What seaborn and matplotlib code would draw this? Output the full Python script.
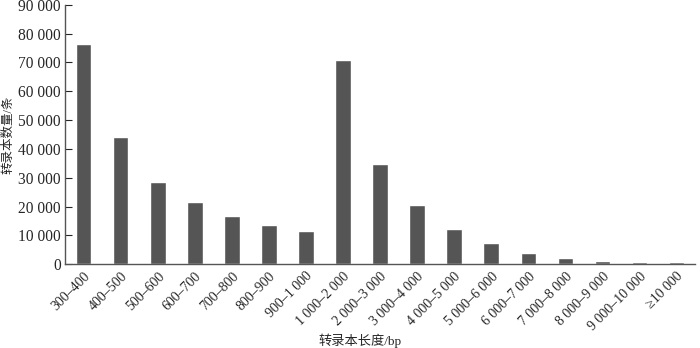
import pandas as pd
import seaborn as sns
import matplotlib.pyplot as plt
from matplotlib.ticker import FuncFormatter

categories = [
    "300–400", "400–500", "500–600", "600–700", "700–800", "800–900",
    "900–1 000", "1 000–2 000", "2 000–3 000", "3 000–4 000", "4 000–5 000",
    "5 000–6 000", "6 000–7 000", "7 000–8 000", "8 000–9 000",
    "9 000–10 000", "≥10 000",
]
counts = [
    76500, 44000, 28500, 21500, 16700, 13500, 11500, 70800, 34600,
    20700, 12200, 7400, 3900, 2000, 1100, 750, 900,
]
y_ticks = list(range(0, 90001, 10000))

sns.set_style("ticks")
plt.rcParams["font.family"] = ["Liberation Serif", "Noto Sans CJK SC"]

df = pd.DataFrame({"length": categories, "count": counts})

fig = plt.figure(figsize=(7, 3.48), dpi=100)
ax = fig.add_axes([0.093, 0.241, 0.9, 0.745])
sns.barplot(data=df, x="length", y="count", color="#555555",
            saturation=1, width=0.42, ax=ax)

ax.set_ylim(0, 90000)
ax.set_xlim(-0.5, len(categories) - 0.5)
ax.set_yticks(y_ticks)
ax.yaxis.set_major_formatter(
    FuncFormatter(lambda v, p: f"{int(v):,}".replace(",", " ")))
ax.tick_params(axis="y", direction="in", length=5, labelsize=11.2,
               width=0.8, pad=3)
ax.tick_params(axis="x", length=0, labelsize=10, pad=4)
plt.setp(ax.get_xticklabels(), rotation=45, ha="right", rotation_mode="anchor")

for side in ["top", "right"]:
    ax.spines[side].set_visible(False)
for side in ["left", "bottom"]:
    ax.spines[side].set_color("#555555")
    ax.spines[side].set_linewidth(1.0)

ax.set_xlabel("转录本长度/bp", fontsize=9.5)
ax.xaxis.set_label_coords(0.468, -0.266)
ax.set_ylabel("转录本数量/条", fontsize=9)
ax.yaxis.set_label_coords(-0.08, 0.5)

fig.savefig("out.png", dpi=100)
plt.close(fig)
